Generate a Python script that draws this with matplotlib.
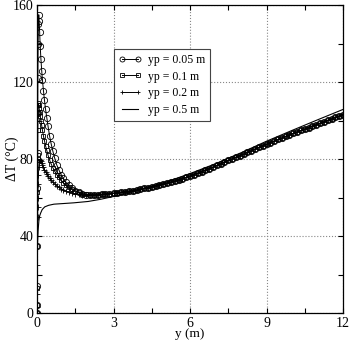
import matplotlib
matplotlib.use("Agg")
import matplotlib.pyplot as plt
from matplotlib.ticker import MultipleLocator

plt.rcParams['font.family'] = ['Liberation Serif', 'DejaVu Serif']

# shared x positions of the marker curves (m)
x_head = [0, 0.002, 0.005, 0.01, 0.015, 0.02, 0.025, 0.03, 0.04, 0.05, 0.065, 0.08,
          0.1, 0.12, 0.15, 0.18, 0.21, 0.25, 0.29, 0.33, 0.38, 0.43, 0.49, 0.55,
          0.62, 0.69, 0.77, 0.85, 0.94, 1.03, 1.13, 1.24, 1.36, 1.49, 1.63, 1.78,
          1.93, 2.08, 2.23, 2.38, 2.53, 2.68, 2.83]
x_tail = [3.0, 3.15, 3.3, 3.45, 3.6, 3.75, 3.9, 4.05, 4.2, 4.35, 4.5, 4.65, 4.8, 4.95,
          5.1, 5.25, 5.4, 5.55, 5.7, 5.85, 6.0, 6.15, 6.3, 6.45, 6.6, 6.75, 6.9, 7.05,
          7.2, 7.35, 7.5, 7.65, 7.8, 7.95, 8.1, 8.25, 8.4, 8.55, 8.7, 8.85, 9.0, 9.15,
          9.3, 9.45, 9.6, 9.75, 9.9, 10.05, 10.2, 10.35, 10.5, 10.65, 10.8, 10.95,
          11.1, 11.25, 11.4, 11.55, 11.7, 11.85, 12.0]

# near-wall part of each curve (deg C)
dT_005_head = [0, 4, 14, 35, 65, 83, 104, 122, 140, 150, 155, 152, 146, 139, 132,
               126, 121, 115.5, 110.5, 106, 101.5, 97, 92, 88, 84, 80.5, 77, 74.5,
               72, 70, 68, 66.3, 64.8, 63.6, 62.7, 62.0, 61.6, 61.4, 61.4, 61.5,
               61.7, 61.9, 62.1]
dT_01_head = [0, 4, 13, 35, 63, 82, 95, 104, 108, 109, 108, 106.5, 104.5, 102.5,
              100, 97.5, 95, 92, 89.5, 87, 84.5, 82, 79.5, 77.5, 75.5, 73.7, 72,
              70.5, 69, 67.7, 66.5, 65.3, 64.3, 63.4, 62.7, 62.1, 61.7, 61.5, 61.4,
              61.5, 61.7, 61.9, 62.1]
dT_02_head = [0, 3, 10, 25, 40, 50, 55, 60, 67, 72, 76, 78.5, 79.5, 79.8, 79, 78,
              77, 75.8, 74.6, 73.5, 72.3, 71.2, 70, 69, 68, 67.1, 66.2, 65.4, 64.6,
              64, 63.4, 62.9, 62.4, 62, 61.7, 61.5, 61.4, 61.35, 61.4, 61.5, 61.7,
              61.9, 62.1]
# far part, where the three marker curves lie on top of each other
dT_tail = [62.3, 62.55, 62.8, 63.05, 63.35, 63.65, 64.0, 64.4, 64.8, 65.2, 65.65,
           66.1, 66.6, 67.1, 67.6, 68.15, 68.7, 69.3, 69.9, 70.55, 71.3, 72.0, 72.75,
           73.5, 74.3, 75.1, 75.9, 76.75, 77.6, 78.45, 79.3, 80.15, 81.0, 81.85, 82.7,
           83.55, 84.4, 85.25, 86.1, 86.95, 87.8, 88.6, 89.4, 90.2, 91.0, 91.8, 92.6,
           93.4, 94.15, 94.9, 95.65, 96.4, 97.15, 97.9, 98.65, 99.4, 100.15, 100.9,
           101.65, 102.4, 103.15]

# yp = 0.5 m (plain line)
x_05 = [0, 0.005, 0.01, 0.02, 0.04, 0.07, 0.1, 0.14, 0.2, 0.3, 0.45, 0.66, 1.0,
        1.44, 2.0, 2.48, 3.0, 3.5, 4, 5, 6, 7, 8, 9, 10, 11, 12]
dT_05 = [0, 15, 28, 37, 43, 48, 50.5, 52, 53.8, 55.2, 56, 56.6, 56.9, 57.3, 58,
         59.1, 60.6, 62.2, 64, 67.8, 72.5, 77.6, 83.3, 89.3, 94.9, 100.4, 105.8]

x_mark = x_head + x_tail

fig = plt.figure(figsize=(3.5, 3.4), dpi=100)
ax = fig.add_axes([0.106, 0.079, 0.874, 0.906])

ax.plot(x_mark, dT_005_head + dT_tail, color='black', lw=0.7, marker='o',
        ms=4.5, mfc='none', mew=0.6, label='yp = 0.05 m')
ax.plot(x_mark, dT_01_head + dT_tail, color='black', lw=0.7, marker='s',
        ms=3, mfc='none', mew=0.6, label='yp = 0.1 m')
ax.plot(x_mark, dT_02_head + dT_tail, color='black', lw=0.7, marker='+',
        ms=4, mew=0.6, label='yp = 0.2 m')
ax.plot(x_05, dT_05, color='black', lw=0.8, label='yp = 0.5 m')

ax.set_xlim(0, 12)
ax.set_ylim(0, 160)
ax.xaxis.set_major_locator(MultipleLocator(3))
ax.xaxis.set_minor_locator(MultipleLocator(1.5))
ax.yaxis.set_major_locator(MultipleLocator(40))
ax.yaxis.set_minor_locator(MultipleLocator(20))
ax.tick_params(which='both', direction='in', top=True, right=True,
               length=3.5, width=0.8, labelsize=10, pad=2.5)
ax.grid(True, which='major', linestyle=':', color='#888888', lw=0.8)
for s in ax.spines.values():
    s.set_linewidth(0.9)

ax.set_xlabel('y (m)', fontsize=9.5, va='center')
ax.xaxis.set_label_coords(0.5, -0.068)
ax.set_ylabel('ΔT (°C)', fontsize=10, va='center')
ax.yaxis.set_label_coords(-0.08, 0.5)

leg = ax.legend(loc='upper left', bbox_to_anchor=(0.25, 0.857), fontsize=8.5,
                numpoints=2, markerscale=0.8,
                handlelength=2.0, handletextpad=0.5, borderpad=0.4,
                labelspacing=0.4, borderaxespad=0, fancybox=False,
                framealpha=1, edgecolor='#444444')
leg.get_frame().set_linewidth(0.8)

fig.savefig('out.png', dpi=100)
